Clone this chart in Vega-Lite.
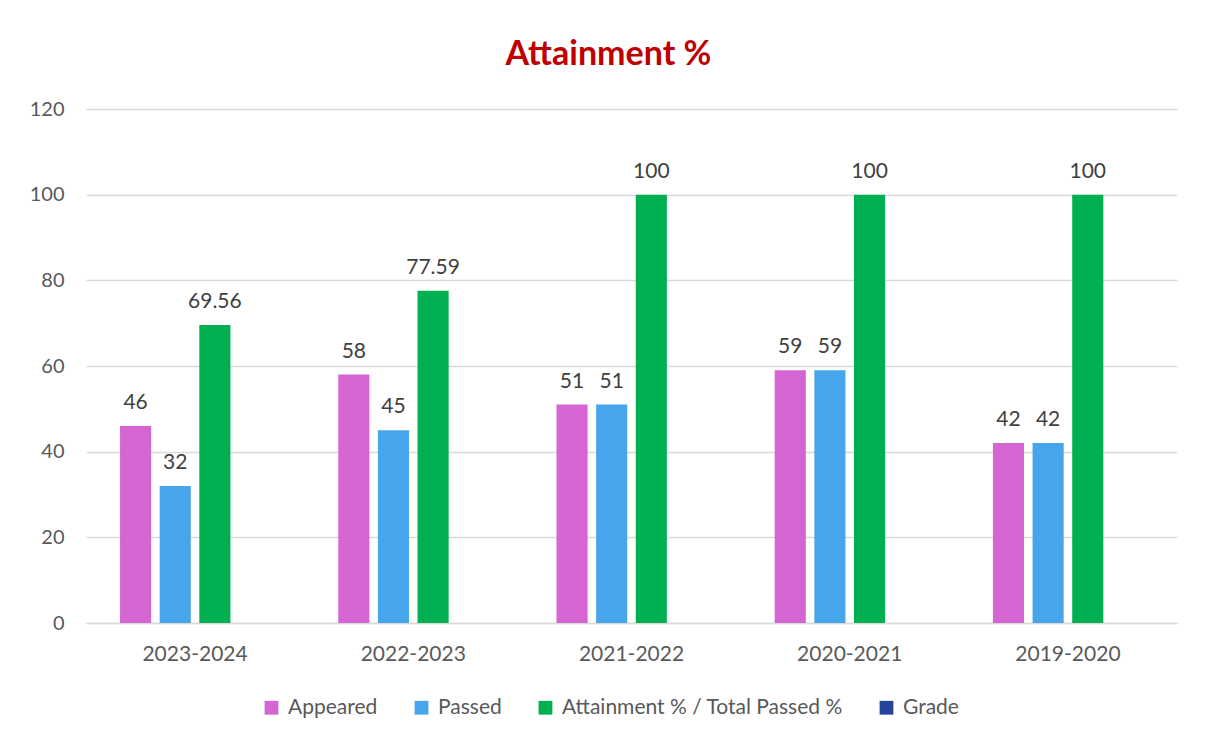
{
  "$schema": "https://vega.github.io/schema/vega-lite/v6.json",
  "width": 1091,
  "height": 514,
  "autosize": {"type": "none"},
  "padding": {"left": 86, "top": 109, "right": 28, "bottom": 115},
  "background": "white",
  "title": {
    "text": "Attainment %",
    "color": "#C00000",
    "font": "Lato",
    "fontSize": 34,
    "fontWeight": "bold",
    "anchor": "middle",
    "dx": -23,
    "offset": 27
  },
  "data": {
    "values": [
      {"year": "2023-2024", "series": "Appeared", "value": 46, "label": "46"},
      {"year": "2023-2024", "series": "Passed", "value": 32, "label": "32"},
      {"year": "2023-2024", "series": "Attainment % / Total Passed %", "value": 69.56, "label": "69.56"},
      {"year": "2022-2023", "series": "Appeared", "value": 58, "label": "58"},
      {"year": "2022-2023", "series": "Passed", "value": 45, "label": "45"},
      {"year": "2022-2023", "series": "Attainment % / Total Passed %", "value": 77.59, "label": "77.59"},
      {"year": "2021-2022", "series": "Appeared", "value": 51, "label": "51"},
      {"year": "2021-2022", "series": "Passed", "value": 51, "label": "51"},
      {"year": "2021-2022", "series": "Attainment % / Total Passed %", "value": 100, "label": "100"},
      {"year": "2020-2021", "series": "Appeared", "value": 59, "label": "59"},
      {"year": "2020-2021", "series": "Passed", "value": 59, "label": "59"},
      {"year": "2020-2021", "series": "Attainment % / Total Passed %", "value": 100, "label": "100"},
      {"year": "2019-2020", "series": "Appeared", "value": 42, "label": "42"},
      {"year": "2019-2020", "series": "Passed", "value": 42, "label": "42"},
      {"year": "2019-2020", "series": "Attainment % / Total Passed %", "value": 100, "label": "100"}
    ]
  },
  "encoding": {
    "x": {
      "field": "year",
      "type": "nominal",
      "sort": ["2023-2024", "2022-2023", "2021-2022", "2020-2021", "2019-2020"],
      "scale": {"paddingInner": 0.3125, "paddingOuter": 0.156},
      "axis": {
        "title": null,
        "labelAngle": 0,
        "labelFont": "Lato",
        "labelFontSize": 21,
        "labelColor": "#595959",
        "labelPadding": 20,
        "ticks": false,
        "domainColor": "#D9D9D9",
        "domainWidth": 1.5
      }
    },
    "xOffset": {
      "field": "series",
      "type": "nominal",
      "scale": {
        "domain": ["Appeared", "Passed", "Attainment % / Total Passed %", "Grade"],
        "paddingInner": 0.215
      }
    },
    "y": {
      "field": "value",
      "type": "quantitative",
      "scale": {"domain": [0, 120]},
      "axis": {
        "title": null,
        "values": [0, 20, 40, 60, 80, 100, 120],
        "labelFont": "Lato",
        "labelFontSize": 20,
        "labelColor": "#595959",
        "labelPadding": 22,
        "ticks": false,
        "domain": false,
        "gridColor": "#D9D9D9",
        "gridWidth": 1.5
      }
    }
  },
  "layer": [
    {
      "mark": {"type": "bar"},
      "encoding": {
        "color": {
          "field": "series",
          "type": "nominal",
          "scale": {
            "domain": ["Appeared", "Passed", "Attainment % / Total Passed %", "Grade"],
            "range": ["#D465D3", "#47A5EB", "#00B050", "#24449A"]
          },
          "legend": {
            "title": null,
            "orient": "none",
            "direction": "horizontal",
            "legendX": 175,
            "legendY": 588,
            "symbolType": "square",
            "symbolSize": 190,
            "symbolStrokeWidth": 0,
            "labelFont": "Lato",
            "labelFontSize": 21,
            "labelColor": "#595959",
            "labelOffset": 6,
            "columnPadding": 33,
            "labelLimit": 400
          }
        }
      }
    },
    {
      "mark": {
        "type": "text",
        "baseline": "bottom",
        "dy": -13,
        "font": "Lato",
        "fontSize": 21,
        "color": "#404040"
      },
      "encoding": {
        "text": {"field": "label", "type": "nominal"}
      }
    }
  ],
  "config": {
    "view": {"stroke": null}
  }
}
